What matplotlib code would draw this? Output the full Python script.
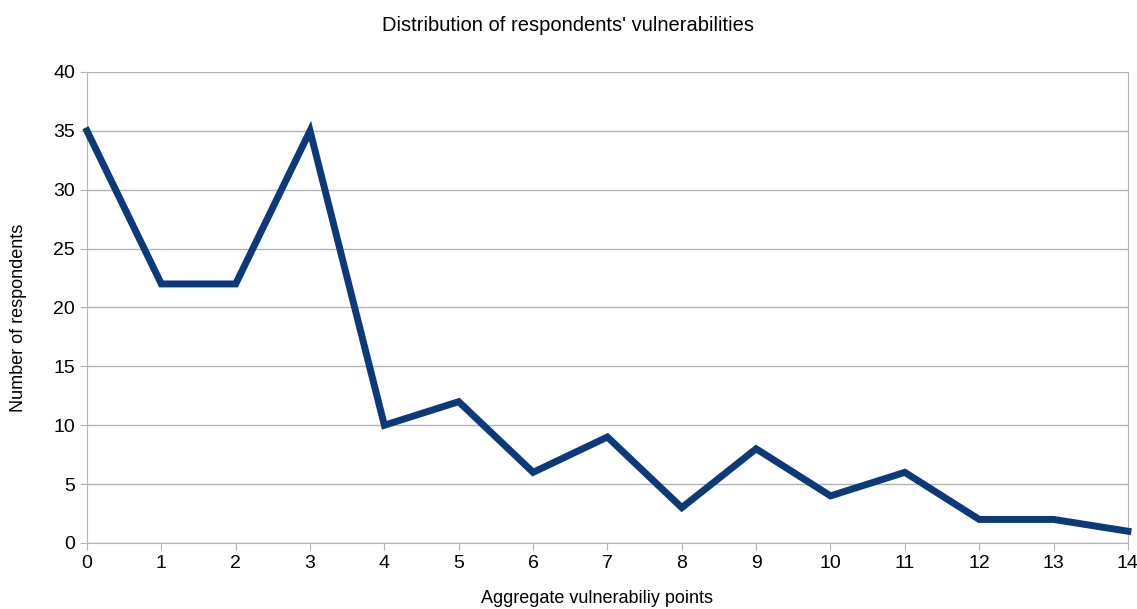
import numpy as np
import matplotlib.pyplot as plt

plt.rcParams['font.family'] = ['Liberation Sans', 'DejaVu Sans']

puntos = np.arange(0, 15)
respondentes = [35, 22, 22, 35, 10, 12, 6, 9, 3, 8, 4, 6, 2, 2, 1]

fig = plt.figure(figsize=(11.37, 6.09), dpi=100)
ax = fig.add_axes([0.0765, 0.1084, 0.9155, 0.7734])

ax.plot(puntos, respondentes, color='#0b3a7a', linewidth=5,
        solid_joinstyle='miter', clip_on=False, zorder=3)

ax.set_xlim(0, 14)
ax.set_ylim(0, 40)
ax.set_xticks(puntos)
ax.set_yticks(np.arange(0, 41, 5))
ax.grid(axis='y', color='#b3b3b3', linewidth=1)
ax.set_axisbelow(True)
for s in ['left', 'right', 'bottom']:
    ax.spines[s].set_color('#b3b3b3')
ax.spines['top'].set_visible(False)
ax.tick_params(colors='#b3b3b3', labelcolor='black', labelsize=14, length=5)

# textos
fig.text(0.5, 0.958, "Distribution of respondents' vulnerabilities",
         fontsize=14.5, ha='center', va='center')
fig.text(0.016, 0.478, 'Number of respondents', fontsize=13,
         rotation=90, ha='center', va='center')
fig.text(0.525, 0.003, 'Aggregate vulnerabiliy points', fontsize=13,
         ha='center', va='bottom')

fig.savefig('out.png', dpi=100)
